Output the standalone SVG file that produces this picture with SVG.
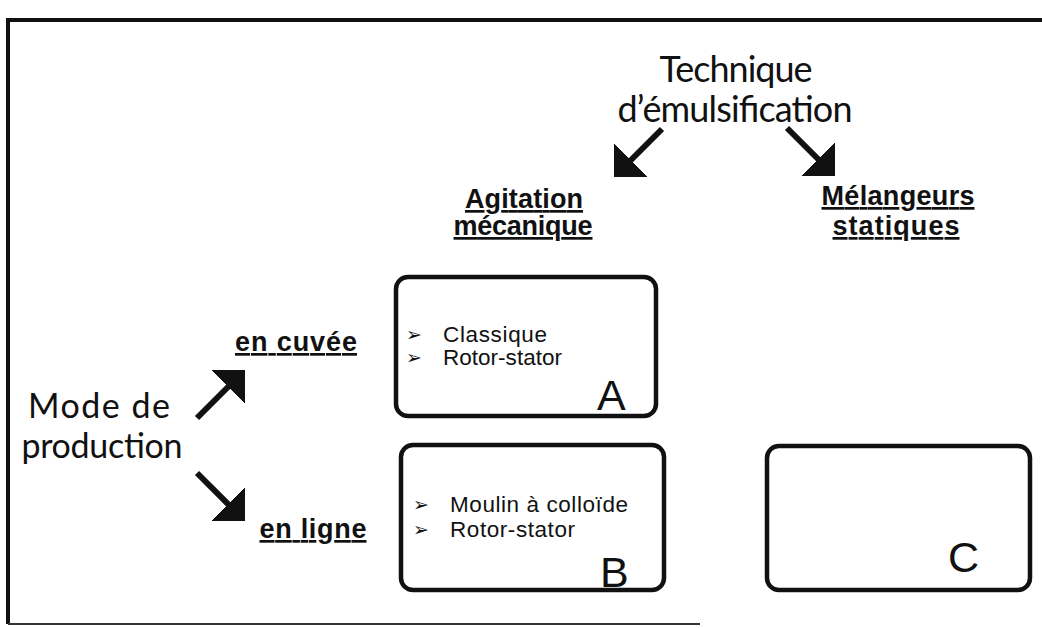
<svg xmlns="http://www.w3.org/2000/svg" width="1042" height="628" viewBox="0 0 1042 628">
<style>
.title{font-family:Lato,"Open Sans",sans-serif;font-size:36px;fill:#111;}
.mode{font-family:Lato,"Open Sans",sans-serif;font-size:34px;fill:#111;}
.head{font-family:"Liberation Sans",Arial,sans-serif;font-weight:bold;font-size:27px;fill:#111;text-decoration:underline;}
.item{font-family:"Liberation Sans",Arial,sans-serif;font-size:22.5px;fill:#111;}
.bullet{font-family:"DejaVu Sans",sans-serif;font-size:19px;fill:#111;}
.letter{font-family:"Liberation Sans",Arial,sans-serif;font-size:43px;fill:#111;}
.box{fill:#fff;stroke:#111;stroke-width:4.5;}
.arrow{stroke:#111;stroke-width:6;fill:none;marker-end:url(#ah);}
</style>
<defs>
<marker id="ah" markerUnits="userSpaceOnUse" markerWidth="24" markerHeight="48" viewBox="0 0 24 48" refX="12" refY="24" orient="auto">
<path d="M0,0 L24,24 L0,48 z" fill="#111"/>
</marker>
</defs>
<rect width="1042" height="628" fill="#fff"/>
<g id="frame">
<path d="M1042,20 H8 V624" fill="none" stroke="#111" stroke-width="4"/>
<path d="M8,624 H700" fill="none" stroke="#333" stroke-width="2"/>
</g>
<g id="technique">
<text class="title" x="736" y="82" text-anchor="middle" textLength="153">Technique</text>
<text class="title" x="735" y="122" text-anchor="middle" textLength="235">d’émulsification</text>
</g>
<g id="mode">
<text class="mode" x="99" y="418" text-anchor="middle" textLength="142">Mode de</text>
<text class="mode" x="102" y="458" text-anchor="middle" textLength="161">production</text>
</g>
<g id="agitation">
<text class="head" x="524" y="208" text-anchor="middle" textLength="118">Agitation</text>
<text class="head" x="523" y="235" text-anchor="middle" textLength="139">mécanique</text>
</g>
<g id="melangeurs">
<text class="head" x="898" y="205" text-anchor="middle" textLength="153">Mélangeurs</text>
<text class="head" x="896" y="235" text-anchor="middle" textLength="127">statiques</text>
</g>
<g id="en-cuvee">
<text class="head" x="296" y="351" text-anchor="middle" textLength="122">en cuvée</text>
</g>
<g id="en-ligne">
<text class="head" x="313" y="538" text-anchor="middle" textLength="107">en ligne</text>
</g>
<g id="boxA">
<rect class="box" x="396" y="277" width="260" height="139" rx="12"/>
<text class="bullet" x="406" y="341">➢</text>
<text class="bullet" x="406" y="364">➢</text>
<text class="item" x="443" y="342" textLength="104">Classique</text>
<text class="item" x="443" y="365" textLength="119">Rotor-stator</text>
<text class="letter" x="597" y="410">A</text>
</g>
<g id="boxB">
<rect class="box" x="401" y="445" width="263" height="145" rx="12"/>
<text class="bullet" x="413" y="511">➢</text>
<text class="bullet" x="413" y="536">➢</text>
<text class="item" x="450" y="512" textLength="178">Moulin à colloïde</text>
<text class="item" x="450" y="537" textLength="125">Rotor-stator</text>
<text class="letter" x="600" y="587">B</text>
</g>
<g id="boxC">
<rect class="box" x="767" y="446" width="263" height="144" rx="12"/>
<text class="letter" x="948" y="572">C</text>
</g>
<g id="connectors">
<line class="arrow" x1="662" y1="129" x2="622.5" y2="168.5"/>
<line class="arrow" x1="787" y1="128" x2="826.5" y2="167.5"/>
<line class="arrow" x1="197" y1="418" x2="236.5" y2="378.5"/>
<line class="arrow" x1="197" y1="473" x2="236.5" y2="512.5"/>
</g>
</svg>
